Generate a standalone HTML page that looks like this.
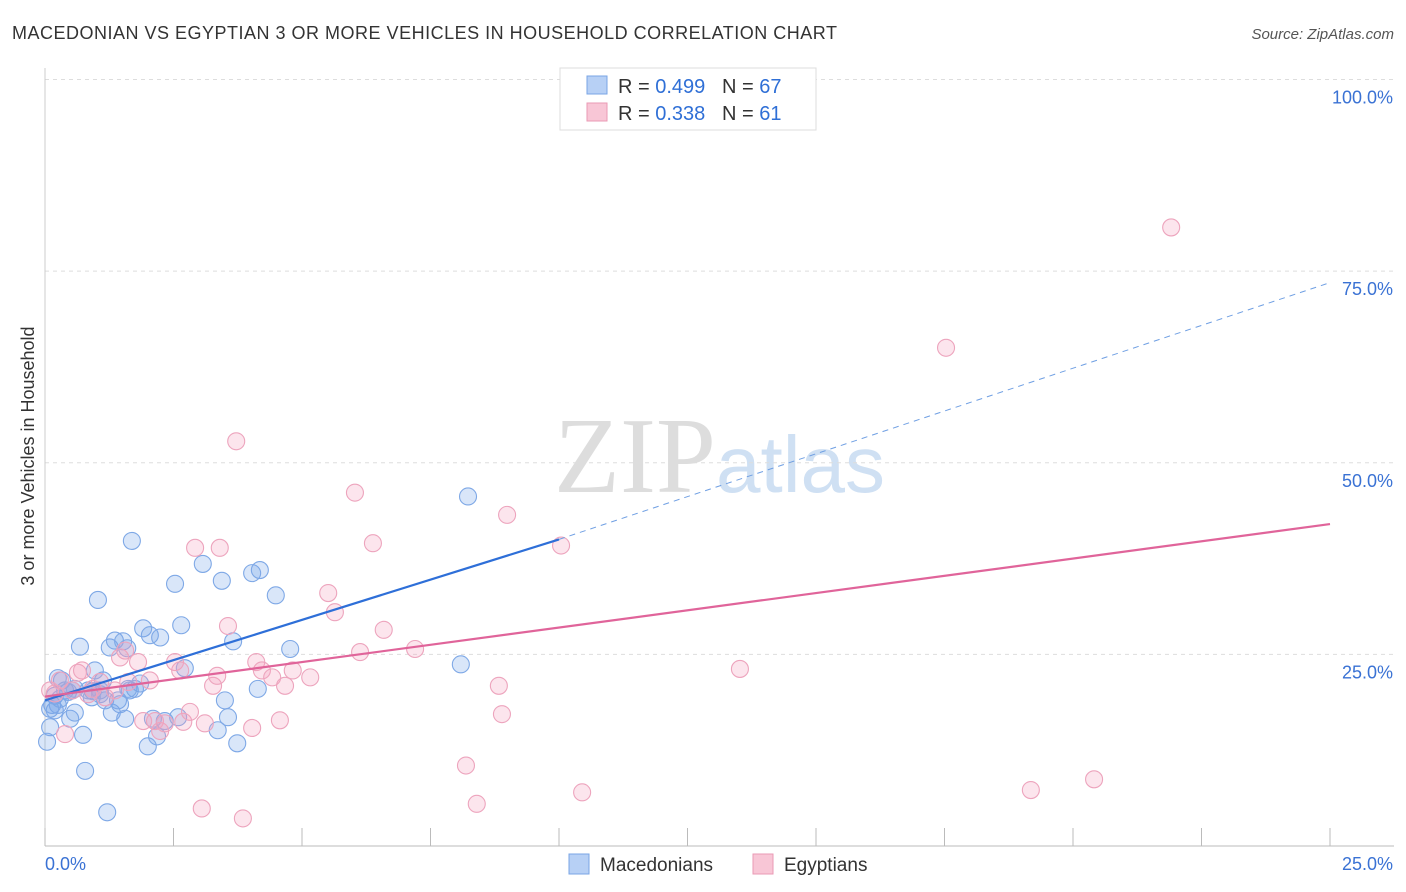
<!DOCTYPE html>
<html><head><meta charset="utf-8">
<style>
body{margin:0;background:#fff;font-family:"Liberation Sans",sans-serif;}
#wrap{position:relative;width:1406px;height:892px;overflow:hidden;}
</style></head>
<body><div id="wrap">
<svg id="svg" width="1406" height="892" xmlns="http://www.w3.org/2000/svg">
<text x="12" y="39" font-size="18" fill="#333" letter-spacing="0.5">MACEDONIAN VS EGYPTIAN 3 OR MORE VEHICLES IN HOUSEHOLD CORRELATION CHART</text>
<text x="1394" y="39" font-size="15" fill="#555" text-anchor="end" font-style="italic">Source: ZipAtlas.com</text>
<text x="716" y="492" font-size="108" fill="#ddd" text-anchor="end" font-family="Liberation Serif,serif">ZIP</text>
<text x="716" y="492" font-size="80" fill="#cfe0f3">atlas</text>
<text transform="translate(34,456) rotate(-90)" font-size="18" fill="#333" text-anchor="middle">3 or more Vehicles in Household</text>
<g id="grid"></g><g id="marks"></g><g id="lines"></g>
<g>
<rect x="560" y="68" width="256" height="62" fill="#fff" stroke="#ddd"/>
<rect x="587" y="76" width="20" height="18" fill="#b7d0f5" stroke="#7aa5e5"/>
<rect x="587" y="103" width="20" height="18" fill="#f8c6d6" stroke="#ea9ab4"/>
<text x="618" y="93" font-size="20" fill="#333">R = <tspan fill="#2f6fd6">0.499</tspan>&#160;&#160;&#160;N = <tspan fill="#2f6fd6">67</tspan></text>
<text x="618" y="120" font-size="20" fill="#333">R = <tspan fill="#2f6fd6"> 0.338</tspan>&#160;&#160;&#160;N = <tspan fill="#2f6fd6"> 61</tspan></text>
</g>
<g>
<rect x="569" y="854" width="20" height="20" fill="#b7d0f5" stroke="#7aa5e5"/>
<text x="600" y="871" font-size="19" fill="#333">Macedonians</text>
<rect x="753" y="854" width="20" height="20" fill="#f8c6d6" stroke="#ea9ab4"/>
<text x="784" y="871" font-size="19" fill="#333">Egyptians</text>
</g>
</svg>
<script>
const xTicksPct=[0,2.5,5,7.5,10,12.5,15,17.5,20,22.5,25];
const yTicks=[25,50,75,100];
const yTickLabels=["25.0%","50.0%","75.0%","100.0%"];
const blueX=[0.04,0.1,0.14,0.19,0.25,0.33,0.39,0.49,0.53,0.58,0.68,0.74,0.78,0.84,0.91,0.97,1.03,1.07,1.13,1.17,1.21,1.26,1.3,1.36,1.42,1.46,1.52,1.56,1.6,1.65,1.69,1.75,1.85,1.91,2.0,2.04,2.1,2.18,2.24,2.33,2.53,2.59,2.65,2.72,3.07,3.36,3.44,3.56,3.66,3.74,4.03,4.14,4.18,4.49,4.77,8.09,8.23,0.19,0.29,0.45,0.58,0.93,0.1,0.25,1.62,3.5,1.07];
const blueY=[13.6,15.5,18.4,17.7,18.4,21.6,20.3,16.6,20.3,17.4,26.0,14.5,9.8,20.3,19.4,22.9,32.1,20.3,21.6,19.0,4.4,25.9,17.4,26.8,19.0,18.5,26.7,16.6,25.8,20.3,39.8,20.5,21.2,28.4,13.0,27.5,16.6,14.3,27.2,16.3,34.2,16.8,28.8,23.2,36.8,15.1,34.6,16.8,26.7,13.4,35.6,20.5,36.0,32.7,25.7,23.7,45.6,19.6,19.2,20.1,20.5,20.2,17.9,21.9,20.5,19.0,19.8];
const pinkX=[0.1,0.19,0.29,0.39,0.53,0.64,0.72,0.84,0.93,1.07,1.17,1.36,1.46,1.56,1.62,1.81,1.91,2.04,2.14,2.24,2.33,2.53,2.63,2.69,2.82,2.92,3.05,3.11,3.27,3.35,3.4,3.56,3.72,3.85,4.03,4.11,4.22,4.42,4.57,4.67,4.82,5.16,5.51,5.64,6.03,6.13,6.38,6.59,7.2,8.19,8.4,8.83,8.89,8.99,10.04,10.45,13.52,17.53,19.18,20.41,21.91];
const pinkY=[20.3,19.9,21.6,14.6,20.3,22.6,22.9,19.8,20.5,21.4,19.4,20.3,24.6,25.5,21.4,24.0,16.3,21.6,16.3,15.0,16.0,24.0,22.9,16.2,17.5,38.9,4.9,16.0,20.9,22.2,38.9,28.7,52.8,3.6,15.4,24.0,22.9,22.0,16.4,20.9,22.9,22.0,33.0,30.5,46.1,25.3,39.5,28.2,25.7,10.5,5.5,20.9,17.2,43.2,39.2,7.0,23.1,65.0,7.3,8.7,80.7];
const X0=45,X1=1330,Y0=846,YPER=7.665;
const sx=v=>X0+(X1-X0)*v/25, sy=v=>Y0-YPER*v;
const NS="http://www.w3.org/2000/svg";
function mk(tag,attrs,parent){const e=document.createElementNS(NS,tag);for(const k in attrs)e.setAttribute(k,attrs[k]);parent.appendChild(e);return e;}
const grid=document.getElementById('grid'),marks=document.getElementById('marks'),lines=document.getElementById('lines');
yTicks.forEach((t,i)=>{
 const g=mk('line',{x1:X0,x2:1394,y1:sy(t),y2:sy(t),stroke:'#ddd','stroke-dasharray':'4,4'},grid);
 
 
 const tx=mk('text',{x:1393,y:sy(t)+24,'font-size':18,fill:'#3a72d4','text-anchor':'end'},grid);tx.textContent=yTickLabels[i];
 
 
});
const ax=mk('line',{x1:X0,x2:1394,y1:Y0,y2:Y0,stroke:'#bbb'},grid);


const ay=mk('line',{x1:X0,x2:X0,y1:68,y2:Y0,stroke:'#ccc'},grid);


xTicksPct.forEach(t=>{const l=mk('line',{x1:sx(t),x2:sx(t),y1:Y0,y2:Y0-18,stroke:'#bbb'},grid);
 
 });
const xl0=mk('text',{x:45,y:870,'font-size':18,fill:'#3a72d4'},grid);xl0.textContent='0.0%';


const xl1=mk('text',{x:1393,y:870,'font-size':18,fill:'#3a72d4','text-anchor':'end'},grid);xl1.textContent='25.0%';


blueX.forEach((x,i)=>{const c=mk('circle',{cx:sx(x),cy:sy(blueY[i]),r:8.5,fill:'rgba(120,165,235,0.28)',stroke:'#7ea8e6','stroke-width':1.1},marks);
 
 });
pinkX.forEach((x,i)=>{const c=mk('circle',{cx:sx(x),cy:sy(pinkY[i]),r:8.5,fill:'rgba(245,160,190,0.28)',stroke:'#eda4bd','stroke-width':1.1},marks);
 
 });
const bl=mk('line',{x1:sx(0),y1:sy(19),x2:sx(10),y2:sy(40),stroke:'#2e6fd8','stroke-width':2.2},lines);


const bd=mk('line',{x1:sx(10),y1:sy(40),x2:sx(25),y2:sy(73.5),stroke:'#6f9fe3','stroke-width':1,'stroke-dasharray':'6,5'},lines);


const pl=mk('line',{x1:sx(0),y1:sy(19.5),x2:sx(25),y2:sy(42),stroke:'#e0649a','stroke-width':2.2},lines);


</script>
</div></body></html>
